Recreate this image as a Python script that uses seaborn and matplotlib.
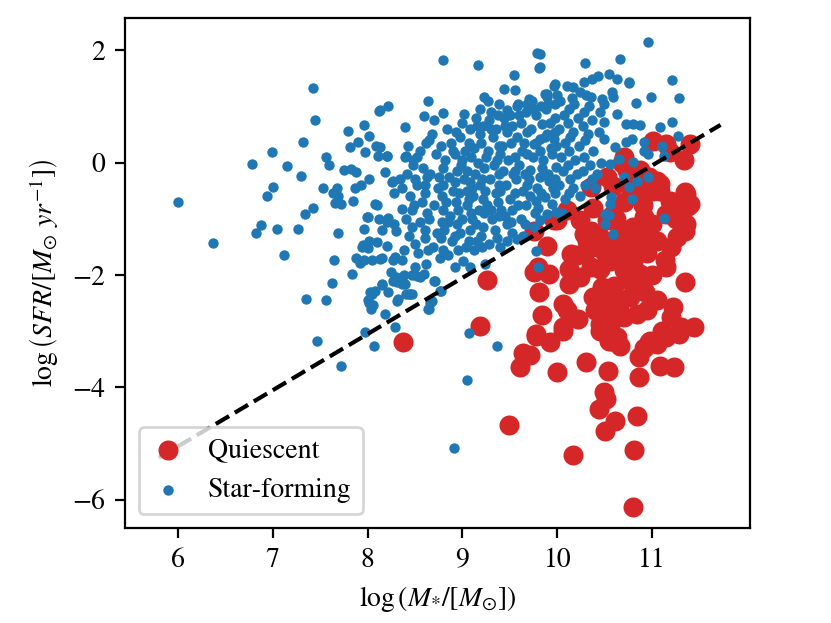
import numpy as np
import pandas as pd
import matplotlib
matplotlib.use('Agg')
import matplotlib.pyplot as plt
import seaborn as sns

# (log M*, log SFR)
star_forming = [
    (6.0, -0.71), (6.37, -1.43), (7.42, 1.32), (7.45, 0.75), (6.78, -0.03), (6.99, 0.18),
    (7.15, -0.07), (7.30, -0.24), (7.0, -0.44), (6.94, -0.6), (6.88, -1.11), (6.82, -1.26),
    (7.05, -1.19), (7.27, -1.19), (7.12, -1.64), (7.34, -0.92), (7.43, -0.8), (7.53, -0.46),
    (7.32, 0.37), (7.56, 0.09), (7.59, -0.04), (7.35, -2.43), (7.56, -2.44), (7.47, -3.18),
    (7.79, 0.56), (7.96, 0.67), (8.02, 0.47), (8.12, 0.91), (8.22, 1.0), (7.82, 0.28),
    (7.90, 0.36), (7.97, 0.18), (8.09, 0.3), (8.11, 0.12), (8.21, 0.11), (7.75, -0.14),
    (7.83, -0.11), (7.88, -0.16), (8.02, -0.29), (8.18, -0.17), (7.87, -0.45), (7.93, -0.4),
    (7.64, -0.54), (7.68, -0.45), (7.69, -0.59), (7.66, -0.72), (7.72, -0.74), (7.85, -0.69),
    (8.10, -0.75), (8.0, -0.96), (7.69, -1.26), (7.65, -1.74), (7.88, -1.7), (7.92, -1.78),
    (7.84, -1.99), (7.63, -2.14), (8.05, -1.74), (8.15, -1.7), (7.95, -1.46), (8.0, -1.52),
    (8.1, -1.42), (8.2, -1.48), (8.03, -2.31), (8.08, -2.28), (8.0, -2.44), (8.04, -2.6),
    (8.15, -2.17), (8.22, -2.31), (8.32, -2.43), (8.18, -2.69), (8.29, -2.93), (7.97, -3.02),
    (8.07, -3.26), (8.12, -1.0), (8.2, -1.05), (8.28, -1.1), (8.15, -1.2), (8.3, -1.22),
    (8.22, -0.98), (8.28, -0.55), (8.36, -0.46), (8.36, -0.82), (8.26, -0.34), (8.34, -0.3),
    (8.29, -1.68), (8.36, -1.74), (8.3, -2.04), (8.39, -2.16), (8.39, 0.1), (8.39, 0.63),
    (7.72, -3.61), (9.07, -3.04), (9.05, -3.86), (8.91, -5.08), (9.36, -3.27),
    (8.70, -2.11), (8.77, -2.29), (8.68, -2.47), (8.65, -2.6), (8.44, -2.34), (8.47, -2.33),
    (8.31, -2.13), (8.36, -2.16), (8.38, -2.0), (8.47, -2.0), (8.52, -2.02), (8.59, -1.98),
    (8.79, 1.83), (9.16, 1.74), (9.79, 1.95), (9.81, 1.69), (9.54, 1.55), (9.55, 1.29),
    (9.44, 1.3), (8.13, 0.93), (8.64, 1.09), (8.59, 0.83), (8.70, 0.75), (8.79, 0.88),
    (8.65, 0.41), (9.23, 1.17), (9.27, 1.09), (9.38, 1.04), (9.59, 1.04), (9.70, 1.13),
    (9.68, 1.04), (9.87, 1.22), (9.96, 1.37), (9.89, 1.16), (9.02, 0.87), (9.19, 0.96),
    (9.30, 0.9), (9.47, 0.93), (8.13, 0.27), (8.20, 0.11), (8.41, 0.11), (8.52, 0.09),
    (8.27, -0.32), (8.48, -0.05), (8.08, -0.74), (7.99, -0.97), (7.96, -1.18), (8.01, -1.39),
    (7.94, -1.51), (7.96, -1.74), (8.13, -1.71), (8.27, -1.74), (8.25, -1.95), (8.27, -2.1),
    (8.15, -2.16), (8.05, -2.34), (8.01, -2.49), (8.06, -2.54), (8.45, -2.34), (8.41, -2.34),
    (8.31, -2.46), (8.64, -2.6), (8.66, -2.49), (8.76, -2.28), (8.71, -2.1), (8.55, -2.04),
    (8.50, -1.86), (8.92, -1.86), (9.08, -1.86), (9.24, -1.8), (9.40, -1.51), (9.47, -1.39),
    (9.57, -1.36), (9.64, -1.30), (9.77, -1.57), (9.80, -1.86), (9.75, -1.15), (9.82, -1.03),
    (9.89, -0.91), (9.78, -0.68), (9.87, -0.62), (9.94, -0.74), (9.99, -0.88), (9.82, -0.26),
    (9.91, -0.32), (9.99, -0.08), (9.94, 0.15), (9.85, 0.04), (9.71, -0.14), (9.68, 0.15),
    (9.75, 0.33), (9.82, 0.42), (9.89, 0.51), (9.96, 0.42), (9.84, 0.69),
    (10.96, 2.14), (10.66, 1.85), (10.29, 1.77), (11.21, 1.46), (10.75, 1.43), (10.63, 1.49),
    (10.54, 1.58), (10.43, 1.54), (10.36, 1.49), (10.28, 1.43), (10.58, 1.25), (10.47, 1.13),
    (10.35, 1.16), (10.24, 1.25), (10.17, 1.34), (10.10, 1.37), (9.98, 1.4), (9.89, 1.22),
    (9.82, 1.93), (9.82, 1.7), (10.99, 1.17), (11.28, 1.14), (10.83, 1.06), (11.21, 0.72),
    (11.08, 0.64), (11.27, 0.48), (10.75, 1.41), (10.59, 1.16), (10.49, 1.04), (10.49, 0.72),
    (10.63, 0.87), (10.72, 0.69), (10.80, 0.69), (10.87, 0.66), (10.49, 0.42), (10.61, 0.27),
    (10.72, 0.36), (10.79, 0.42), (10.91, 0.36), (10.91, 0.21), (10.96, 0.15), (11.1, 0.3),
    (11.12, 0.12), (10.65, 0.07), (10.56, -0.02), (10.80, 0.01), (10.70, -0.26), (10.84, -0.32),
    (10.96, -0.26), (10.75, -0.44), (10.79, -0.65), (10.57, -0.62), (10.56, -0.74), (10.50, -0.91),
    (10.54, -0.94), (10.50, -1.09), (10.59, -1.27), (11.12, -0.98),
    # dense core
    (8.42, -0.2), (8.45, -0.6), (8.40, -1.0), (8.44, -1.3), (8.38, -1.55), (8.47, -0.85), (8.43, 0.3),
    (8.55, 0.2), (8.58, -0.1), (8.52, -0.4), (8.57, -0.7), (8.55, -1.05), (8.60, -1.35), (8.53, -1.6),
    (8.62, -1.8), (8.68, 0.5), (8.72, 0.15), (8.66, -0.2), (8.74, -0.45), (8.70, -0.75), (8.65, -1.0),
    (8.73, -1.25), (8.69, -1.5), (8.76, -1.7), (8.84, 0.6), (8.88, 0.35), (8.82, 0.05), (8.86, -0.25),
    (8.90, -0.5), (8.83, -0.7), (8.87, -0.95), (8.81, -1.2), (8.89, -1.4), (8.85, -1.65), (9.0, 0.7),
    (8.97, 0.45), (9.03, 0.2), (8.98, -0.05), (9.02, -0.3), (8.96, -0.55), (9.05, -0.75), (9.0, -1.0),
    (8.97, -1.25), (9.04, -1.5), (9.01, -1.75), (9.14, 0.8), (9.18, 0.5), (9.12, 0.25), (9.16, 0.0),
    (9.13, -0.2), (9.19, -0.4), (9.11, -0.6), (9.17, -0.85), (9.14, -1.1), (9.2, -1.3), (9.12, -1.55),
    (9.28, 0.75), (9.32, 0.45), (9.27, 0.2), (9.33, -0.05), (9.29, -0.3), (9.35, -0.55), (9.26, -0.75),
    (9.31, -1.0), (9.34, -1.2), (9.28, -1.45), (9.44, 0.8), (9.47, 0.55), (9.42, 0.3), (9.48, 0.05),
    (9.43, -0.15), (9.46, -0.4), (9.5, -0.65), (9.41, -0.85), (9.47, -1.1), (9.52, -1.25), (9.58, 1.0),
    (9.62, 0.7), (9.57, 0.45), (9.63, 0.2), (9.6, -0.05), (9.56, -0.3), (9.64, -0.5), (9.59, -0.75),
    (9.62, -1.0), (9.73, 1.1), (9.77, 0.85), (9.72, 0.6), (9.78, 0.35), (9.74, 0.1), (9.79, -0.45),
    (9.71, -0.6), (9.76, -0.9), (9.88, 0.95), (9.92, 0.7), (9.87, 0.45), (9.93, 0.25), (9.9, -0.2),
    (9.95, -0.45), (10.03, 1.1), (10.07, 0.85), (10.02, 0.6), (10.08, 0.35), (10.04, 0.1), (10.06, -0.15),
    (10.02, -0.4), (10.08, -0.65), (10.05, -0.9), (10.18, 1.05), (10.22, 0.8), (10.17, 0.55), (10.23, 0.3),
    (10.19, 0.05), (10.21, -0.2), (10.16, -0.45), (10.24, -0.6), (10.33, 1.0), (10.37, 0.75), (10.32, 0.5),
    (10.38, 0.2), (10.34, -0.05), (10.36, -0.3), (10.4, -0.45), (10.45, 0.9), (10.44, 0.55), (10.46, 0.0),
    (10.42, -0.2), (9.05, -0.15), (9.1, -0.45), (9.22, -0.65), (9.25, 0.1), (8.92, -0.35), (8.8, -0.4),
    (9.38, -0.2), (9.2, 0.35), (9.55, 0.1), (9.4, -0.5), (8.95, -0.85), (9.1, -1.0), (8.78, -1.05),
    (9.35, 0.6), (9.65, 0.35), (9.5, 0.85), (9.55, -0.55), (9.0, 0.05),
    (8.48, 0.05), (8.5, -0.3), (8.49, -0.75), (8.47, -1.15), (8.5, -1.45), (8.62, 0.35), (8.63, -0.25),
    (8.61, -0.55), (8.63, -0.9), (8.6, -1.2), (8.64, -1.55), (8.77, 0.3), (8.79, -0.1), (8.78, -0.6),
    (8.8, -0.85), (8.77, -1.35), (8.8, -1.55), (8.93, 0.55), (8.92, 0.15), (8.94, -0.15), (8.93, -0.7),
    (8.94, -1.1), (8.92, -1.3), (8.95, -1.55), (9.08, 0.6), (9.07, 0.35), (9.09, 0.1), (9.08, -0.35),
    (9.07, -0.65), (9.09, -0.9), (9.08, -1.2), (9.07, -1.4), (9.22, 0.65), (9.23, -0.1), (9.21, -0.3),
    (9.24, -0.5), (9.23, -0.9), (9.22, -1.15), (9.21, -1.5), (9.37, 0.85), (9.38, 0.3), (9.36, 0.05),
    (9.39, -0.4), (9.37, -0.7), (9.38, -0.95), (9.36, -1.35), (9.52, 0.65), (9.51, 0.35), (9.53, -0.2),
    (9.52, -0.85), (9.51, -1.05), (9.67, 0.9), (9.68, 0.55), (9.66, -0.2), (9.68, -0.4), (9.67, -0.75),
    (9.66, -1.1), (9.83, 1.0), (9.82, 0.2), (9.84, -0.1), (9.83, -0.55), (9.8, -0.8), (9.98, 1.05),
    (9.97, 0.8), (9.98, 0.55), (9.99, 0.3), (9.97, -0.3), (9.98, -0.55), (10.12, 0.95), (10.11, 0.7),
    (10.13, 0.45), (10.12, 0.2), (10.11, -0.05), (10.13, -0.3), (10.12, -0.55), (10.28, 0.9),
    (10.27, 0.65), (10.29, 0.4), (10.28, 0.1), (10.27, -0.15), (10.29, -0.4),
    (9.15, 0.65), (9.3, 0.6), (9.45, 0.65), (9.6, 0.85), (9.75, 0.95), (9.9, 1.05), (10.0, 1.2),
    (10.15, 1.15), (10.3, 1.2), (8.9, 0.2), (9.05, -0.5), (9.3, -0.85), (9.45, -0.95), (8.75, -0.25),
    (8.6, -0.4), (9.15, -1.4), (8.85, -1.05), (9.4, 0.15), (9.55, -0.15), (9.7, -0.3),
]

quiescent = [
    (8.37, -3.2), (9.19, -2.91), (9.26, -2.09), (9.64, -3.38), (9.71, -3.43), (9.61, -3.64),
    (9.78, -3.08), (9.92, -3.2), (10.0, -3.73), (10.30, -3.54), (10.53, -3.71), (10.49, -4.09),
    (10.51, -4.2), (10.44, -4.39), (10.61, -4.6), (10.50, -4.77), (9.49, -4.67), (10.17, -5.2),
    (10.84, -4.51), (10.81, -5.12), (10.80, -6.12), (10.86, -3.46), (10.86, -3.82), (11.08, -3.61),
    (11.23, -3.64), (10.57, -3.17), (10.66, -3.26), (10.49, -3.02), (10.97, -3.2), (11.05, -3.23),
    (11.12, -3.08), (11.28, -3.05), (11.44, -2.93), (10.06, -2.99), (10.45, -2.99),
    (9.75, -1.95), (9.80, -1.86), (9.89, -1.48), (9.81, -2.31), (9.84, -2.72), (9.77, -3.05),
    (10.06, -2.51), (10.1, -2.63), (10.22, -2.78), (10.06, -2.93), (10.12, -1.89), (10.12, -2.16),
    (10.24, -2.04), (10.14, -1.63), (10.21, -1.65), (10.31, -1.39), (10.28, -1.27), (10.35, -1.21),
    (10.38, -2.4), (10.40, -2.63), (10.47, -2.22), (10.52, -2.51), (10.56, -2.75), (10.45, -2.87),
    (10.56, -2.93), (10.63, -3.11), (10.54, -3.17), (10.66, -1.68), (10.70, -1.92), (10.80, -1.8),
    (10.77, -2.1), (10.87, -1.98), (10.92, -2.31), (10.94, -2.63), (11.13, -1.74), (11.15, -1.86),
    (11.35, -2.13), (11.22, -2.57), (11.20, -2.75), (11.30, -2.93), (11.10, -2.99), (11.15, -3.11),
    (10.98, -3.17), (10.91, -3.29), (11.36, -0.56), (11.40, -0.74), (11.36, -1.09), (11.35, -1.21),
    (11.22, -0.71), (11.15, -0.91), (11.26, -1.33), (11.01, -0.5), (11.08, -0.38), (10.91, -0.97),
    (10.80, -1.15), (10.94, -1.27), (10.84, -1.45), (10.73, -1.33), (10.59, -0.91), (10.52, -1.03),
    (10.66, -1.21), (10.59, -1.45), (10.45, -1.33), (10.38, -1.51), (10.28, -1.63), (10.73, -0.38),
    (10.84, -0.5), (10.94, -0.26), (10.38, -0.8), (10.24, -1.03), (10.1, -0.85), (10.0, -1.03),
    (10.77, -2.4), (10.84, -2.69), (10.70, -2.75), (11.01, 0.39), (11.15, 0.33), (11.19, 0.18),
    (11.40, 0.33), (11.33, 0.04), (10.97, -0.26), (11.05, -0.32), (11.08, -0.5), (11.35, -0.53),
    (11.38, -0.77), (11.19, -0.68), (11.35, -1.15), (10.80, -0.32), (10.87, -0.14), (10.70, 0.09),
    (9.91, -1.98), (9.96, -1.03), (10.68, 0.0), (10.73, -0.14), (10.52, -0.26), (10.59, -0.41),
    (10.35, -0.44), (9.75, -1.21),
    (10.62, -1.0), (10.7, -0.7), (10.9, -0.75), (11.0, -1.1), (11.05, -1.4), (10.95, -1.6),
    (10.75, -1.6), (10.55, -1.75), (10.45, -1.9), (10.6, -2.2), (10.85, -2.2), (11.0, -2.0),
    (11.05, -2.45), (10.6, -2.4), (10.9, -1.2), (11.25, -1.0), (11.2, -1.5), (10.5, -1.6),
    (10.35, -1.85), (10.65, -2.6),
]

line_x = [5.8, 11.72]
line_y = [-5.25, 0.67]

sf = pd.DataFrame(star_forming, columns=['mass', 'sfr'])
q = pd.DataFrame(quiescent, columns=['mass', 'sfr'])

plt.rcParams['font.family'] = ['STIXGeneral', 'DejaVu Serif']
plt.rcParams['mathtext.fontset'] = 'stix'
plt.rcParams['font.size'] = 10

fig = plt.figure(figsize=(4.155, 3.115), dpi=200)
ax = fig.add_axes([0.150, 0.1525, 0.7525, 0.8185])

sns.scatterplot(data=q, x='mass', y='sfr', color='#d62728', s=52, linewidth=0,
                label='Quiescent', ax=ax, zorder=2)
sns.scatterplot(data=sf, x='mass', y='sfr', color='#1f77b4', s=14, linewidth=0,
                label='Star-forming', ax=ax, zorder=3)
ax.plot(line_x, line_y, color='black', linestyle='--', linewidth=1.5, zorder=4)

ax.set_xlim(5.44, 12.03)
ax.set_ylim(-6.5, 2.57)
ax.set_xticks([6, 7, 8, 9, 10, 11])
ax.set_yticks([-6, -4, -2, 0, 2])
ax.set_xlabel(r'$\log\left(M_{*}/[M_{\odot}]\right)$')
ax.set_ylabel(r'$\log\left(SFR/[M_{\odot}\ yr^{-1}]\right)$')

leg = ax.legend(loc='lower left', handlelength=1.3)
leg.set_zorder(5)

fig.savefig('out.png', dpi=200)
